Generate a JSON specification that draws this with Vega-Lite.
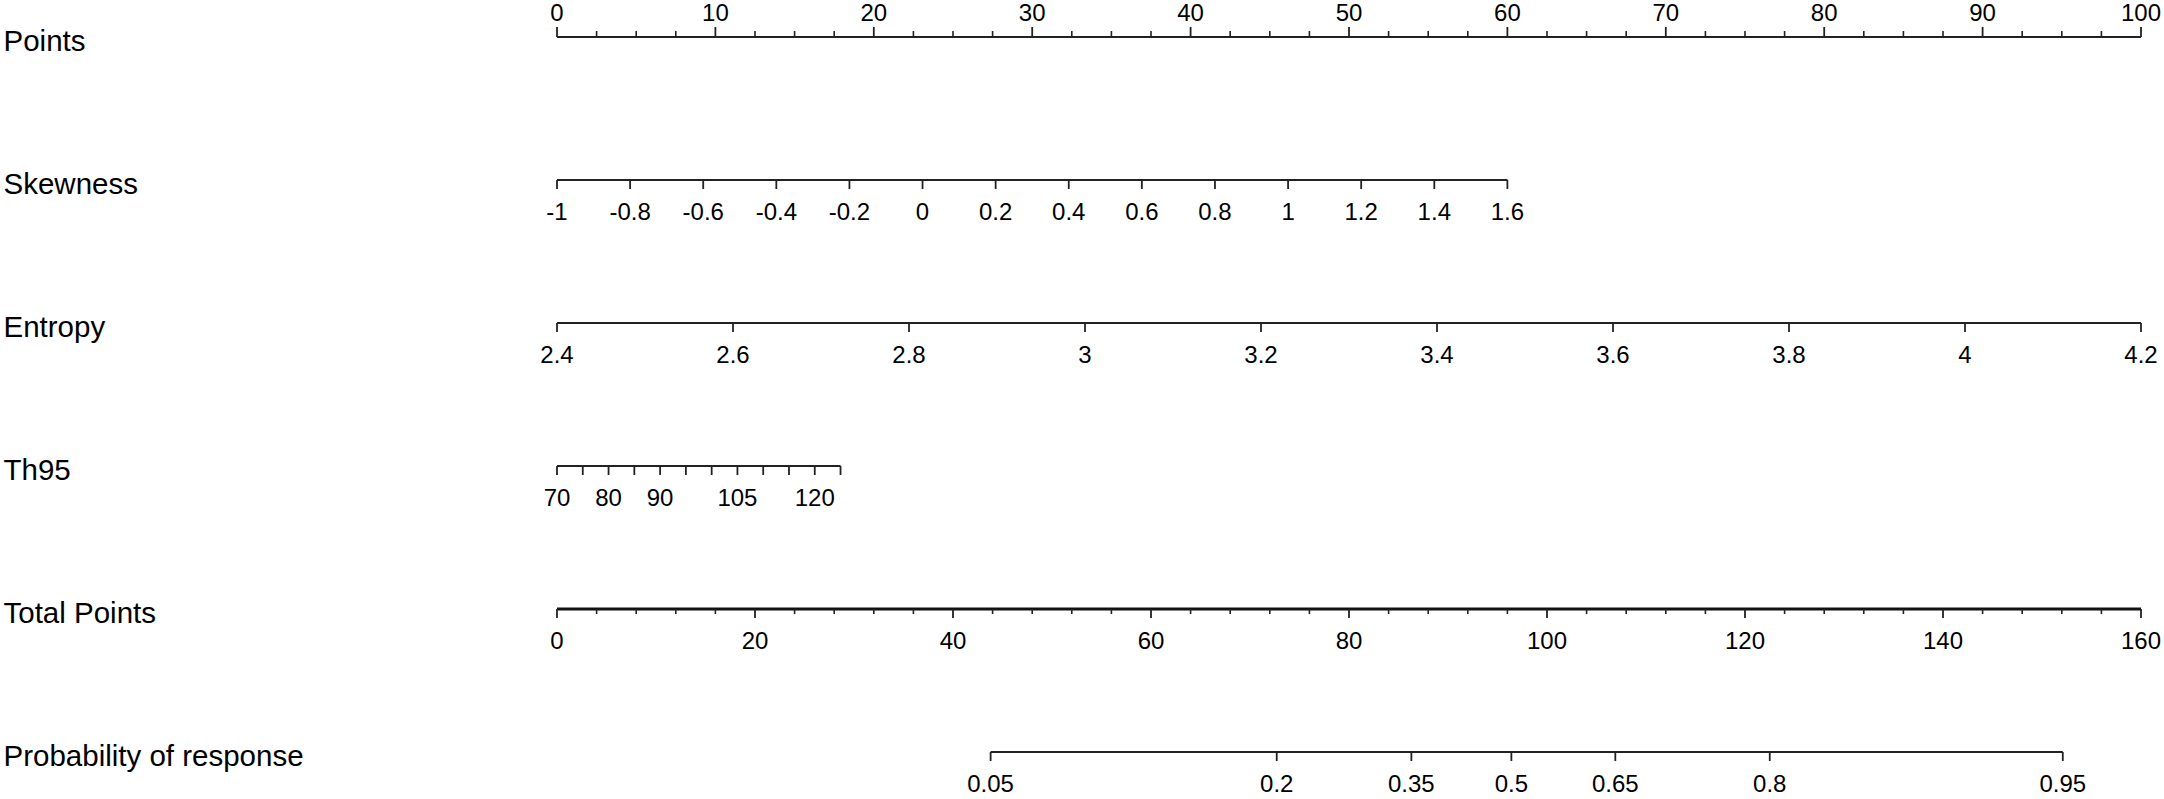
{
  "$schema": "https://vega.github.io/schema/vega-lite/v6.json",
  "width": 1584,
  "height": 715,
  "autosize": {"type": "none"},
  "padding": {"left": 557, "right": 23, "top": 37, "bottom": 47},
  "background": "white",
  "config": {
    "view": {"stroke": null},
    "font": "Liberation Sans",
    "text": {"font": "Liberation Sans"},
    "axisY": {"domain": false, "ticks": false, "tickSize": 0, "labelAlign": "left", "labelBaseline": "middle", "labelPadding": 554, "labelOffset": 4, "labelFontSize": 29.5, "labelColor": "#000", "labelFont": "Liberation Sans", "labelLimit": 600, "grid": false}
  },
  "datasets": {
    "ptsLines": [
      {"row": "Points", "from": 0, "to": 100},
      {"row": "Skewness", "from": 0, "to": 60},
      {"row": "Entropy", "from": 0, "to": 100},
      {"row": "Th95", "from": 0, "to": 17.9}
    ],
    "ptsTicks": [
      {"row": "Points", "pts": 0, "label": "0", "kind": "major"},
      {"row": "Points", "pts": 10, "label": "10", "kind": "major"},
      {"row": "Points", "pts": 20, "label": "20", "kind": "major"},
      {"row": "Points", "pts": 30, "label": "30", "kind": "major"},
      {"row": "Points", "pts": 40, "label": "40", "kind": "major"},
      {"row": "Points", "pts": 50, "label": "50", "kind": "major"},
      {"row": "Points", "pts": 60, "label": "60", "kind": "major"},
      {"row": "Points", "pts": 70, "label": "70", "kind": "major"},
      {"row": "Points", "pts": 80, "label": "80", "kind": "major"},
      {"row": "Points", "pts": 90, "label": "90", "kind": "major"},
      {"row": "Points", "pts": 100, "label": "100", "kind": "major"},
      {"row": "Points", "pts": 2.5, "label": "", "kind": "minor"},
      {"row": "Points", "pts": 5, "label": "", "kind": "minor"},
      {"row": "Points", "pts": 7.5, "label": "", "kind": "minor"},
      {"row": "Points", "pts": 12.5, "label": "", "kind": "minor"},
      {"row": "Points", "pts": 15, "label": "", "kind": "minor"},
      {"row": "Points", "pts": 17.5, "label": "", "kind": "minor"},
      {"row": "Points", "pts": 22.5, "label": "", "kind": "minor"},
      {"row": "Points", "pts": 25, "label": "", "kind": "minor"},
      {"row": "Points", "pts": 27.5, "label": "", "kind": "minor"},
      {"row": "Points", "pts": 32.5, "label": "", "kind": "minor"},
      {"row": "Points", "pts": 35, "label": "", "kind": "minor"},
      {"row": "Points", "pts": 37.5, "label": "", "kind": "minor"},
      {"row": "Points", "pts": 42.5, "label": "", "kind": "minor"},
      {"row": "Points", "pts": 45, "label": "", "kind": "minor"},
      {"row": "Points", "pts": 47.5, "label": "", "kind": "minor"},
      {"row": "Points", "pts": 52.5, "label": "", "kind": "minor"},
      {"row": "Points", "pts": 55, "label": "", "kind": "minor"},
      {"row": "Points", "pts": 57.5, "label": "", "kind": "minor"},
      {"row": "Points", "pts": 62.5, "label": "", "kind": "minor"},
      {"row": "Points", "pts": 65, "label": "", "kind": "minor"},
      {"row": "Points", "pts": 67.5, "label": "", "kind": "minor"},
      {"row": "Points", "pts": 72.5, "label": "", "kind": "minor"},
      {"row": "Points", "pts": 75, "label": "", "kind": "minor"},
      {"row": "Points", "pts": 77.5, "label": "", "kind": "minor"},
      {"row": "Points", "pts": 82.5, "label": "", "kind": "minor"},
      {"row": "Points", "pts": 85, "label": "", "kind": "minor"},
      {"row": "Points", "pts": 87.5, "label": "", "kind": "minor"},
      {"row": "Points", "pts": 92.5, "label": "", "kind": "minor"},
      {"row": "Points", "pts": 95, "label": "", "kind": "minor"},
      {"row": "Points", "pts": 97.5, "label": "", "kind": "minor"},
      {"row": "Skewness", "pts": 0, "label": "-1", "kind": "major"},
      {"row": "Skewness", "pts": 4.615, "label": "-0.8", "kind": "major"},
      {"row": "Skewness", "pts": 9.231, "label": "-0.6", "kind": "major"},
      {"row": "Skewness", "pts": 13.846, "label": "-0.4", "kind": "major"},
      {"row": "Skewness", "pts": 18.462, "label": "-0.2", "kind": "major"},
      {"row": "Skewness", "pts": 23.077, "label": "0", "kind": "major"},
      {"row": "Skewness", "pts": 27.692, "label": "0.2", "kind": "major"},
      {"row": "Skewness", "pts": 32.308, "label": "0.4", "kind": "major"},
      {"row": "Skewness", "pts": 36.923, "label": "0.6", "kind": "major"},
      {"row": "Skewness", "pts": 41.538, "label": "0.8", "kind": "major"},
      {"row": "Skewness", "pts": 46.154, "label": "1", "kind": "major"},
      {"row": "Skewness", "pts": 50.769, "label": "1.2", "kind": "major"},
      {"row": "Skewness", "pts": 55.385, "label": "1.4", "kind": "major"},
      {"row": "Skewness", "pts": 60, "label": "1.6", "kind": "major"},
      {"row": "Entropy", "pts": 0, "label": "2.4", "kind": "major"},
      {"row": "Entropy", "pts": 11.111, "label": "2.6", "kind": "major"},
      {"row": "Entropy", "pts": 22.222, "label": "2.8", "kind": "major"},
      {"row": "Entropy", "pts": 33.333, "label": "3", "kind": "major"},
      {"row": "Entropy", "pts": 44.444, "label": "3.2", "kind": "major"},
      {"row": "Entropy", "pts": 55.556, "label": "3.4", "kind": "major"},
      {"row": "Entropy", "pts": 66.667, "label": "3.6", "kind": "major"},
      {"row": "Entropy", "pts": 77.778, "label": "3.8", "kind": "major"},
      {"row": "Entropy", "pts": 88.889, "label": "4", "kind": "major"},
      {"row": "Entropy", "pts": 100, "label": "4.2", "kind": "major"},
      {"row": "Th95", "pts": 0, "label": "70", "kind": "major"},
      {"row": "Th95", "pts": 1.627, "label": "", "kind": "major"},
      {"row": "Th95", "pts": 3.255, "label": "80", "kind": "major"},
      {"row": "Th95", "pts": 4.882, "label": "", "kind": "major"},
      {"row": "Th95", "pts": 6.509, "label": "90", "kind": "major"},
      {"row": "Th95", "pts": 8.136, "label": "", "kind": "major"},
      {"row": "Th95", "pts": 9.764, "label": "", "kind": "major"},
      {"row": "Th95", "pts": 11.391, "label": "105", "kind": "major"},
      {"row": "Th95", "pts": 13.018, "label": "", "kind": "major"},
      {"row": "Th95", "pts": 14.645, "label": "", "kind": "major"},
      {"row": "Th95", "pts": 16.273, "label": "120", "kind": "major"},
      {"row": "Th95", "pts": 17.9, "label": "", "kind": "major"}
    ],
    "totLines": [
      {"row": "Total Points", "from": 0, "to": 160},
      {"row": "Probability of response", "from": 43.8, "to": 152.1}
    ],
    "totTicks": [
      {"row": "Total Points", "tot": 0, "label": "0", "kind": "major"},
      {"row": "Total Points", "tot": 20, "label": "20", "kind": "major"},
      {"row": "Total Points", "tot": 40, "label": "40", "kind": "major"},
      {"row": "Total Points", "tot": 60, "label": "60", "kind": "major"},
      {"row": "Total Points", "tot": 80, "label": "80", "kind": "major"},
      {"row": "Total Points", "tot": 100, "label": "100", "kind": "major"},
      {"row": "Total Points", "tot": 120, "label": "120", "kind": "major"},
      {"row": "Total Points", "tot": 140, "label": "140", "kind": "major"},
      {"row": "Total Points", "tot": 160, "label": "160", "kind": "major"},
      {"row": "Total Points", "tot": 4, "label": "", "kind": "minor"},
      {"row": "Total Points", "tot": 8, "label": "", "kind": "minor"},
      {"row": "Total Points", "tot": 12, "label": "", "kind": "minor"},
      {"row": "Total Points", "tot": 16, "label": "", "kind": "minor"},
      {"row": "Total Points", "tot": 24, "label": "", "kind": "minor"},
      {"row": "Total Points", "tot": 28, "label": "", "kind": "minor"},
      {"row": "Total Points", "tot": 32, "label": "", "kind": "minor"},
      {"row": "Total Points", "tot": 36, "label": "", "kind": "minor"},
      {"row": "Total Points", "tot": 44, "label": "", "kind": "minor"},
      {"row": "Total Points", "tot": 48, "label": "", "kind": "minor"},
      {"row": "Total Points", "tot": 52, "label": "", "kind": "minor"},
      {"row": "Total Points", "tot": 56, "label": "", "kind": "minor"},
      {"row": "Total Points", "tot": 64, "label": "", "kind": "minor"},
      {"row": "Total Points", "tot": 68, "label": "", "kind": "minor"},
      {"row": "Total Points", "tot": 72, "label": "", "kind": "minor"},
      {"row": "Total Points", "tot": 76, "label": "", "kind": "minor"},
      {"row": "Total Points", "tot": 84, "label": "", "kind": "minor"},
      {"row": "Total Points", "tot": 88, "label": "", "kind": "minor"},
      {"row": "Total Points", "tot": 92, "label": "", "kind": "minor"},
      {"row": "Total Points", "tot": 96, "label": "", "kind": "minor"},
      {"row": "Total Points", "tot": 104, "label": "", "kind": "minor"},
      {"row": "Total Points", "tot": 108, "label": "", "kind": "minor"},
      {"row": "Total Points", "tot": 112, "label": "", "kind": "minor"},
      {"row": "Total Points", "tot": 116, "label": "", "kind": "minor"},
      {"row": "Total Points", "tot": 124, "label": "", "kind": "minor"},
      {"row": "Total Points", "tot": 128, "label": "", "kind": "minor"},
      {"row": "Total Points", "tot": 132, "label": "", "kind": "minor"},
      {"row": "Total Points", "tot": 136, "label": "", "kind": "minor"},
      {"row": "Total Points", "tot": 144, "label": "", "kind": "minor"},
      {"row": "Total Points", "tot": 148, "label": "", "kind": "minor"},
      {"row": "Total Points", "tot": 152, "label": "", "kind": "minor"},
      {"row": "Total Points", "tot": 156, "label": "", "kind": "minor"},
      {"row": "Probability of response", "tot": 43.8, "label": "0.05", "kind": "major"},
      {"row": "Probability of response", "tot": 72.7, "label": "0.2", "kind": "major"},
      {"row": "Probability of response", "tot": 86.3, "label": "0.35", "kind": "major"},
      {"row": "Probability of response", "tot": 96.4, "label": "0.5", "kind": "major"},
      {"row": "Probability of response", "tot": 106.9, "label": "0.65", "kind": "major"},
      {"row": "Probability of response", "tot": 122.5, "label": "0.8", "kind": "major"},
      {"row": "Probability of response", "tot": 152.1, "label": "0.95", "kind": "major"}
    ]
  },
  "layer": [
    {
      "layer": [
        {
          "data": {"name": "ptsLines"},
          "mark": {"type": "rule", "color": "#222", "strokeWidth": 1.8},
          "encoding": {
            "x": {"field": "from", "type": "quantitative", "scale": {"domain": [0, 100], "nice": false, "zero": false}, "axis": null},
            "x2": {"field": "to"},
            "y": {"field": "row", "type": "nominal", "title": null, "scale": {"type": "point", "padding": 0, "domain": ["Points", "Skewness", "Entropy", "Th95", "Total Points", "Probability of response"]}}
          }
        },
        {
          "data": {"name": "ptsTicks"},
          "transform": [{"filter": "datum.row != 'Points'"}],
          "mark": {"type": "rule", "color": "#222", "strokeWidth": 1.8, "y2Offset": 9},
          "encoding": {
            "x": {"field": "pts", "type": "quantitative", "axis": null},
            "y": {"field": "row", "type": "nominal", "title": null},
            "y2": {"field": "row"}
          }
        },
        {
          "data": {"name": "ptsTicks"},
          "transform": [{"filter": "datum.row == 'Points' && datum.kind == 'major'"}],
          "mark": {"type": "rule", "color": "#222", "strokeWidth": 1.8, "y2Offset": -10},
          "encoding": {
            "x": {"field": "pts", "type": "quantitative", "axis": null},
            "y": {"field": "row", "type": "nominal", "title": null},
            "y2": {"field": "row"}
          }
        },
        {
          "data": {"name": "ptsTicks"},
          "transform": [{"filter": "datum.row == 'Points' && datum.kind == 'minor'"}],
          "mark": {"type": "rule", "color": "#222", "strokeWidth": 1.6, "y2Offset": -6},
          "encoding": {
            "x": {"field": "pts", "type": "quantitative", "axis": null},
            "y": {"field": "row", "type": "nominal", "title": null},
            "y2": {"field": "row"}
          }
        },
        {
          "data": {"name": "ptsTicks"},
          "transform": [{"filter": "datum.row != 'Points' && datum.label != ''"}],
          "mark": {"type": "text", "fontSize": 24, "color": "#000", "baseline": "middle", "align": "center", "dy": 33},
          "encoding": {
            "x": {"field": "pts", "type": "quantitative", "axis": null},
            "y": {"field": "row", "type": "nominal", "title": null},
            "text": {"field": "label"}
          }
        },
        {
          "data": {"name": "ptsTicks"},
          "transform": [{"filter": "datum.row == 'Points' && datum.label != ''"}],
          "mark": {"type": "text", "fontSize": 24, "color": "#000", "baseline": "middle", "align": "center", "dy": -23},
          "encoding": {
            "x": {"field": "pts", "type": "quantitative", "axis": null},
            "y": {"field": "row", "type": "nominal", "title": null},
            "text": {"field": "label"}
          }
        }
      ]
    },
    {
      "layer": [
        {
          "data": {"name": "totLines"},
          "transform": [{"filter": "datum.row == 'Total Points'"}],
          "mark": {"type": "rule", "color": "#111", "strokeWidth": 3.2},
          "encoding": {
            "x": {"field": "from", "type": "quantitative", "scale": {"domain": [0, 160], "nice": false, "zero": false}, "axis": null},
            "x2": {"field": "to"},
            "y": {"field": "row", "type": "nominal", "title": null}
          }
        },
        {
          "data": {"name": "totLines"},
          "transform": [{"filter": "datum.row != 'Total Points'"}],
          "mark": {"type": "rule", "color": "#222", "strokeWidth": 1.8},
          "encoding": {
            "x": {"field": "from", "type": "quantitative", "axis": null},
            "x2": {"field": "to"},
            "y": {"field": "row", "type": "nominal", "title": null}
          }
        },
        {
          "data": {"name": "totTicks"},
          "transform": [{"filter": "datum.kind == 'major'"}],
          "mark": {"type": "rule", "color": "#222", "strokeWidth": 1.8, "y2Offset": 9},
          "encoding": {
            "x": {"field": "tot", "type": "quantitative", "axis": null},
            "y": {"field": "row", "type": "nominal", "title": null},
            "y2": {"field": "row"}
          }
        },
        {
          "data": {"name": "totTicks"},
          "transform": [{"filter": "datum.kind == 'minor'"}],
          "mark": {"type": "rule", "color": "#222", "strokeWidth": 1.6, "y2Offset": 5},
          "encoding": {
            "x": {"field": "tot", "type": "quantitative", "axis": null},
            "y": {"field": "row", "type": "nominal", "title": null},
            "y2": {"field": "row"}
          }
        },
        {
          "data": {"name": "totTicks"},
          "transform": [{"filter": "datum.label != ''"}],
          "mark": {"type": "text", "fontSize": 24, "color": "#000", "baseline": "middle", "align": "center", "dy": 33},
          "encoding": {
            "x": {"field": "tot", "type": "quantitative", "axis": null},
            "y": {"field": "row", "type": "nominal", "title": null},
            "text": {"field": "label"}
          }
        }
      ]
    }
  ],
  "resolve": {"scale": {"x": "independent"}}
}
